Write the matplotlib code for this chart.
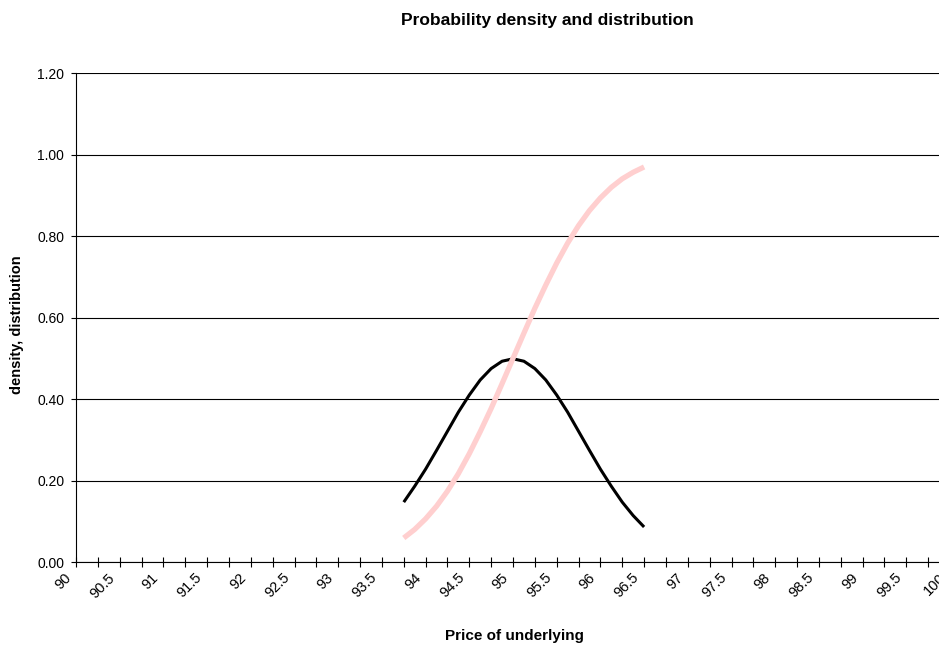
import matplotlib
matplotlib.use("Agg")
import matplotlib.pyplot as plt
from matplotlib.transforms import ScaledTranslation

plt.rcParams['font.family'] = ['Liberation Sans', 'DejaVu Sans']

# price grid (step 0.125) and the two series
price = [93.75, 93.875, 94.0, 94.125, 94.25, 94.375, 94.5, 94.625, 94.75, 94.875,
         95.0, 95.125, 95.25, 95.375, 95.5, 95.625, 95.75, 95.875, 96.0, 96.125,
         96.25, 96.375, 96.5]
density = [0.147, 0.186, 0.228, 0.274, 0.321, 0.368, 0.410, 0.447, 0.475, 0.493,
           0.499, 0.493, 0.475, 0.447, 0.410, 0.368, 0.321, 0.274, 0.228, 0.186,
           0.147, 0.114, 0.086]
distribution = [0.059, 0.080, 0.106, 0.137, 0.174, 0.217, 0.266, 0.320, 0.377, 0.438,
                0.500, 0.562, 0.623, 0.680, 0.734, 0.783, 0.826, 0.863, 0.894, 0.920,
                0.941, 0.957, 0.970]

xtick_pos = [90 + 0.5 * i for i in range(21)]
xtick_labels = ['90', '90.5', '91', '91.5', '92', '92.5', '93', '93.5', '94', '94.5',
                '95', '95.5', '96', '96.5', '97', '97.5', '98', '98.5', '99', '99.5', '100']
xminor_pos = [90.25 + 0.5 * i for i in range(20)]
ytick_pos = [0.0, 0.2, 0.4, 0.6, 0.8, 1.0, 1.2]

W, H = 939, 645
fig = plt.figure(figsize=(W / 100, H / 100), dpi=100)
# plot area runs off the right edge, like the cropped original
ax = fig.add_axes([76 / W, (H - 562) / H, (950 - 76) / W, (562 - 73.3) / H])

ax.plot(price, density, color='black', lw=2.2, zorder=3,
        solid_joinstyle='round', solid_capstyle='butt')
ax.plot(price, distribution, color='#ffcfcf', lw=3.8, zorder=4,
        solid_joinstyle='round', solid_capstyle='butt')

ax.set_xlim(90, 100)
ax.set_ylim(0, 1.2)
ax.set_yticks(ytick_pos)
ax.set_yticklabels(['%.2f' % v for v in ytick_pos], fontsize=10)
ax.yaxis.grid(True, color='black', lw=0.8)
ax.set_axisbelow(True)

ax.set_xticks(xtick_pos)
ax.set_xticklabels(xtick_labels, fontsize=10.5, rotation=45, ha='right', va='center',
                   rotation_mode='anchor')
ax.set_xticks(xminor_pos, minor=True)
ax.tick_params(axis='x', which='both', direction='inout', length=7.5, width=0.8, pad=6)
ax.tick_params(axis='y', direction='out', length=3.5, width=0.8, pad=5)

shift = ScaledTranslation(-7 / 100, 0, fig.dpi_scale_trans)
for lab in ax.get_xticklabels():
    lab.set_transform(lab.get_transform() + shift)

for s in ['top', 'right']:
    ax.spines[s].set_visible(False)
for s in ['left', 'bottom']:
    ax.spines[s].set_linewidth(0.8)

fig.text(547 / W, 1 - 21 / H, 'Probability density and distribution',
         ha='center', va='center', fontsize=12.5, fontweight='bold')
fig.text(514 / W, 1 - 636 / H, 'Price of underlying',
         ha='center', va='center', fontsize=11, fontweight='bold')
fig.text(17 / W, 1 - 325 / H, 'density, distribution', rotation=90,
         ha='center', va='center', fontsize=10.5, fontweight='bold')

fig.savefig('out.png', dpi=100)
